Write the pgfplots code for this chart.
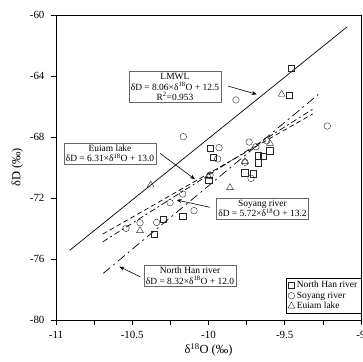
\documentclass[border=0pt]{standalone}
\usepackage{pgfplots}
\pgfplotsset{compat=1.18}
\usepackage{fontspec}
\setmainfont{Liberation Serif}
\usetikzlibrary{arrows.meta}
\begin{document}
\begin{tikzpicture}
\begin{axis}[
  scale only axis, width=305bp, height=305bp,
  xmin=-11, xmax=-9, ymin=-80, ymax=-60,
  xtick={-11,-10.5,-10,-9.5,-9},
  minor xtick={-10.75,-10.25,-9.75,-9.25},
  ytick={-80,-76,-72,-68,-64,-60},
  tick pos=left, tick align=outside,
  major tick length=5bp, minor tick length=5bp,
  every tick/.style={black, line width=0.7pt},
  axis line style={black, line width=0.8pt},
  /pgf/number format/assume math mode=true,
  xticklabel style={font=\fontsize{11}{12}\selectfont, yshift=-3bp},
  yticklabel style={font=\fontsize{11}{12}\selectfont, xshift=-3bp},
  xticklabel={\pgfmathprintnumber[fixed,precision=1]{\tick}},
  yticklabel={\pgfmathprintnumber{\tick}},
  xlabel={δ\textsuperscript{18}O (‰)},
  ylabel={δD (‰)},
  xlabel style={font=\fontsize{12.5}{13}\selectfont, yshift=2bp},
  ylabel style={font=\fontsize{12.5}{13}\selectfont},
  legend style={at={(1,0.02)}, anchor=south east, draw=black, line width=0.5pt,
    font=\fontsize{9.5}{10}\selectfont, inner sep=1.5pt, row sep=-1.5pt},
  legend cell align=left,
  clip=false,
]
\coordinate (bl) at (rel axis cs:0,0);
\coordinate (tr) at (rel axis cs:1,1);
% data
\addplot[only marks, mark=square, mark size=3.3pt, black!85, line width=0.4pt] coordinates {
(-9.459,-63.50) (-9.472,-65.25) (-9.990,-68.74) (-9.968,-69.33) (-10.000,-70.82)
(-9.597,-68.88) (-9.673,-69.24) (-9.641,-69.27) (-9.675,-69.69) (-9.761,-70.34)
(-9.706,-70.42) (-10.169,-73.18) (-10.296,-73.40) (-10.355,-74.38)
};
\addlegendentry{North Han river}
\addplot[only marks, mark=o, mark size=3.3pt, black!85, line width=0.4pt] coordinates {
(-9.820,-65.57) (-9.221,-67.28) (-10.165,-67.98) (-9.931,-68.70) (-9.940,-69.44)
(-9.990,-70.50) (-9.734,-68.33) (-9.689,-68.64) (-9.618,-68.25) (-9.761,-69.66)
(-9.721,-70.71) (-10.169,-71.74) (-10.252,-72.31) (-10.095,-72.83) (-10.340,-73.60)
(-10.449,-73.62) (-10.541,-73.99)
};
\addlegendentry{Soyang river}
\addplot[only marks, mark=triangle, mark size=4pt, black!85, line width=0.4pt] coordinates {
(-9.520,-65.20) (-10.379,-71.15) (-9.859,-71.32) (-10.449,-74.14) (-9.597,-68.42)
(-9.761,-69.62) (-10.000,-70.60)
};
\addlegendentry{Euiam lake}
% regression lines
\addplot[forget plot, black, line width=0.7pt] coordinates {(-10.91,-75.43) (-9.09,-60.77)};
\addplot[forget plot, black, line width=0.7pt, dash pattern=on 9pt off 4pt on 2pt off 4pt] coordinates {(-10.69,-76.94) (-9.28,-65.21)};
\addplot[forget plot, black, line width=0.7pt, dash pattern=on 5pt off 3pt] coordinates {(-10.694,-74.37) (-9.317,-66.49)};
\addplot[forget plot, black, line width=0.7pt, dash pattern=on 6pt off 3pt on 2pt off 3pt] coordinates {(-10.694,-74.88) (-9.317,-66.18)};
% annotations
\tikzset{ann/.style={draw=gray!80!black, fill=white, line width=0.5pt, align=center,
  font=\fontsize{9.5}{10.5}\selectfont, inner sep=2pt}}
\node[ann] at (axis cs:-10.220,-64.72) {LMWL\\δD = 8.06×δ\textsuperscript{18}O + 12.5\\R\textsuperscript{2}=0.953};
\draw[-{Stealth[length=5pt,width=4pt]}, line width=0.6pt] (axis cs:-9.872,-64.66) -- (axis cs:-9.684,-65.20);
\node[ann] at (axis cs:-10.646,-69.08) {Euiam lake\\δD = 6.31×δ\textsuperscript{18}O + 13.0};
\draw[-{Stealth[length=5pt,width=4pt]}, line width=0.6pt] (axis cs:-10.318,-69.07) -- (axis cs:-10.089,-70.77);
\node[ann] at (axis cs:-9.646,-72.70) {Soyang river\\δD = 5.72×δ\textsuperscript{18}O + 13.2};
\draw[-{Stealth[length=5pt,width=4pt]}, line width=0.6pt] (axis cs:-9.990,-72.61) -- (axis cs:-10.209,-72.13);
\node[ann] at (axis cs:-10.121,-77.10) {North Han river\\δD = 8.32×δ\textsuperscript{18}O + 12.0};
\draw[-{Stealth[length=5pt,width=4pt]}, line width=0.6pt] (axis cs:-10.449,-77.16) -- (axis cs:-10.585,-76.50);
\end{axis}
\pgfresetboundingbox
\path ([shift={(-56bp,-42bp)}]bl) rectangle ([shift={(2bp,15bp)}]tr);
\end{tikzpicture}
\end{document}
